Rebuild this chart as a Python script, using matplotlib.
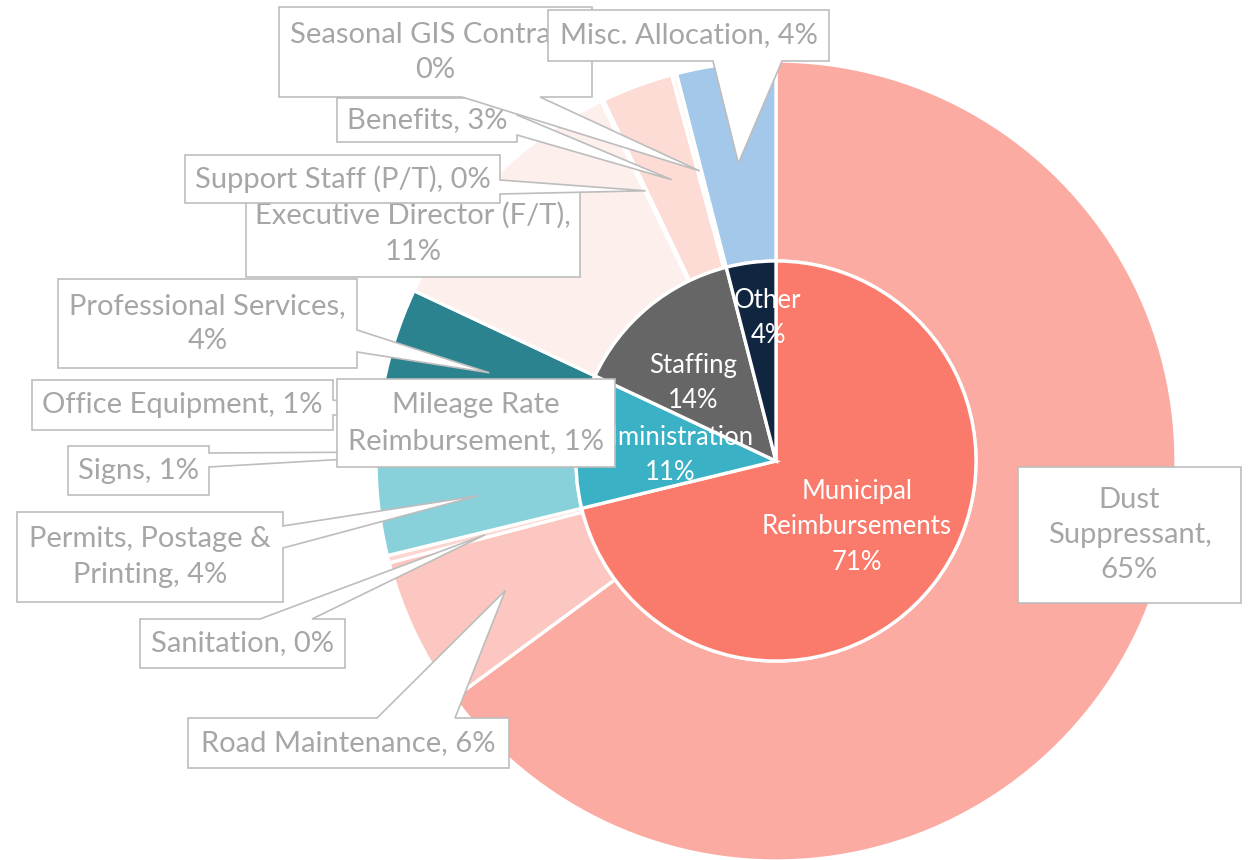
import matplotlib.pyplot as plt
import numpy as np
from matplotlib.patches import Polygon

plt.rcParams['font.family'] = ['Lato', 'DejaVu Sans']

# inner ring: budget groups
grupos = ["Municipal\nReimbursements", "Administration", "Staffing", "Other"]
grupos_pct = [71.2, 10.8, 14.0, 4.0]
grupos_rot = ["71%", "11%", "14%", "4%"]
cores_grupos = ["#fa7a6b", "#3ab1c5", "#666666", "#10253f"]

# outer ring: line items
itens = ["Dust\nSuppressant", "Road Maintenance", "Sanitation",
         "Permits, Postage &\nPrinting", "Signs", "Mileage Rate\nReimbursement",
         "Office Equipment", "Professional Services", "Executive Director (F/T)",
         "Support Staff (P/T)", "Benefits", "Seasonal GIS Contract", "Misc. Allocation"]
itens_pct = [64.9, 6.0, 0.3, 3.9, 0.8, 0.8, 0.8, 4.5, 10.8, 0.1, 2.9, 0.2, 4.0]
itens_rot = ["65%", "6%", "0%", "4%", "1%", "1%", "1%", "4%", "11%", "0%", "3%", "0%", "4%"]
cores_itens = ["#fbaba2", "#fcc7c1", "#fcd6d1", "#88d0da", "#5fbfcc", "#3ab1c5",
               "#2f9aaa", "#2a838f", "#fdefec", "#fde6e2", "#fcdcd5", "#fef4f2", "#a4c8ea"]

W, H = 1259, 860
cx, cy = 776, 461
R = 400

# callout boxes (x0, y0, x1, y1), pointer base, text format
caixas = [
    ((1018, 467, 1241, 603), None, "{n},\n{p}"),
    ((188, 718, 509, 768), ((377, 718), (455, 718)), "{n}, {p}"),
    ((140, 619, 345, 668), ((260, 619), (312, 619)), "{n}, {p}"),
    ((17, 512, 283, 602), ((283, 526), (283, 548)), "{n}, {p}"),
    ((68, 446, 209, 495), ((209, 453), (209, 467)), "{n}, {p}"),
    ((337, 379, 615, 467), None, "{n}, {p}"),
    ((32, 380, 333, 430), ((333, 400), (333, 415)), "{n}, {p}"),
    ((58, 279, 357, 368), ((357, 330), (357, 352)), "{n},\n{p}"),
    ((246, 190, 580, 277), None, "{n},\n{p}"),
    ((185, 155, 500, 203), ((500, 180), (500, 194)), "{n}, {p}"),
    ((337, 98, 517, 142), ((517, 115), (517, 135)), "{n}, {p}"),
    ((279, 7, 592, 97), ((462, 97), (540, 97)), "{n},\n{p}"),
    ((548, 10, 829, 61), ((713, 61), (782, 61)), "{n}, {p}"),
]
ordem = [0, 1, 2, 3, 4, 6, 5, 7, 8, 9, 10, 11, 12]
pos_grupos = [(857, 527), (670, 455), (693, 383), (768, 318)]


def callout(ax, caixa, base, apex, z):
    x0, y0, x1, y1 = caixa
    tl, tr, br, bl = (x0, y0), (x1, y0), (x1, y1), (x0, y1)
    pts = [tl, tr, br, bl]
    if base is not None:
        (ax_, ay_), (bx_, by_) = base
        if ay_ == y0 and by_ == y0:
            a, b = sorted(base)
            pts = [tl, a, apex, b, tr, br, bl]
        elif ax_ == x1 and bx_ == x1:
            a, b = sorted(base, key=lambda p: p[1])
            pts = [tl, tr, a, apex, b, br, bl]
        elif ay_ == y1 and by_ == y1:
            a, b = sorted(base, reverse=True)
            pts = [tl, tr, br, a, apex, b, bl]
        else:
            a, b = sorted(base, key=lambda p: p[1], reverse=True)
            pts = [tl, tr, br, bl, a, apex, b]
    ax.add_patch(Polygon(pts, closed=True, facecolor='white',
                         edgecolor='#bdbdbd', linewidth=1.2, zorder=z))


fig = plt.figure(figsize=(W / 100, H / 100), dpi=100)
ax = fig.add_axes([0, 0, 1, 1])

fatias, _ = ax.pie(itens_pct, radius=R, center=(cx, cy), startangle=-90,
                   counterclock=True, colors=cores_itens,
                   wedgeprops=dict(width=R / 2, edgecolor='white', linewidth=2.4))
ax.pie(grupos_pct, radius=R / 2, center=(cx, cy), startangle=-90,
       counterclock=True, colors=cores_grupos,
       wedgeprops=dict(edgecolor='white', linewidth=2.4))

for (x, y), g, p in zip(pos_grupos, grupos, grupos_rot):
    ax.text(x, y, g + "\n" + p, ha='center', va='center', color='white',
            fontsize=18.5, linespacing=1.5, zorder=4)

for k, i in enumerate(ordem):
    caixa, base, fmt = caixas[i]
    w = fatias[i]
    meio = np.deg2rad((w.theta1 + w.theta2) / 2)
    apex = (cx + 0.75 * R * np.cos(meio), cy + 0.75 * R * np.sin(meio))
    z = 10 + 2 * k
    callout(ax, caixa, base, apex, z)
    x0, y0, x1, y1 = caixa
    ax.text((x0 + x1) / 2, (y0 + y1) / 2, fmt.format(n=itens[i], p=itens_rot[i]),
            ha='center', va='center', color='#a6a6a6', fontsize=21,
            linespacing=1.45, zorder=z + 1)

ax.set_xlim(0, W)
ax.set_ylim(H, 0)
ax.set_aspect('equal')
ax.axis('off')

fig.savefig('out.png', dpi=100, facecolor='white')
